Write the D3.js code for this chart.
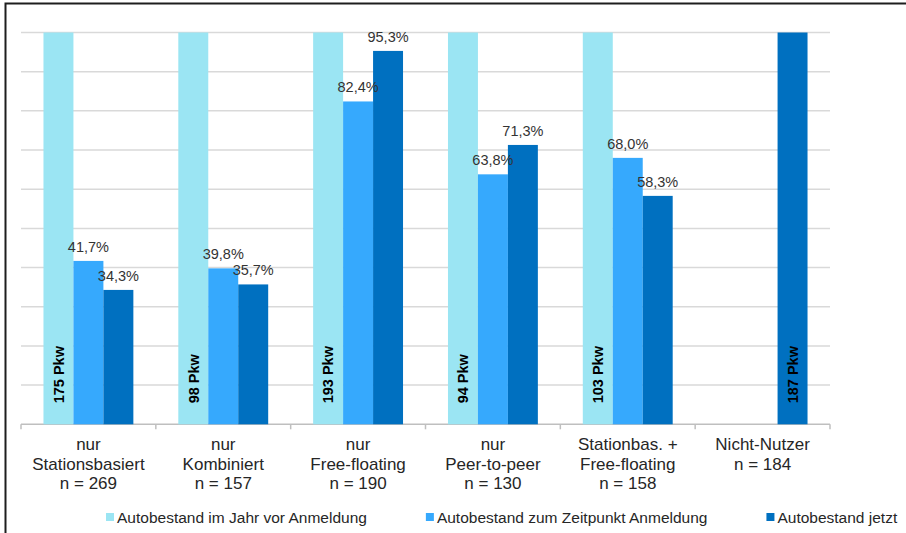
<!DOCTYPE html>
<html>
<head>
<meta charset="utf-8">
<script src="https://cdn.jsdelivr.net/npm/d3@7"></script>
<style>
  body { margin: 0; background: #fff; }
  svg { display: block; font-family: "Liberation Sans", Arial, sans-serif; }
</style>
</head>
<body>
<div id="chart"></div>
<script>
// Data
const categories = [
    ['nur', 'Stationsbasiert', 'n = 269'],
    ['nur', 'Kombiniert', 'n = 157'],
    ['nur', 'Free-floating', 'n = 190'],
    ['nur', 'Peer-to-peer', 'n = 130'],
    ['Stationbas. +', 'Free-floating', 'n = 158'],
    ['Nicht-Nutzer', 'n = 184']
];
const seriesNames = [
    'Autobestand im Jahr vor Anmeldung',
    'Autobestand zum Zeitpunkt Anmeldung',
    'Autobestand jetzt'
];
const vorAnmeldung = [100, 100, 100, 100, 100, null];
const zumZeitpunkt = [41.7, 39.8, 82.4, 63.8, 68.0, null];
const jetzt = [34.3, 35.7, 95.3, 71.3, 58.3, 100];
const pkwLabels = ['175 Pkw', '98 Pkw', '193 Pkw', '94 Pkw', '103 Pkw', '187 Pkw'];
const yTicks = [0, 10, 20, 30, 40, 50, 60, 70, 80, 90, 100];

const colors = ['#9be5f3', '#36a9fd', '#0070c0'];

function groupedBar() {
    let width = 906;
    let height = 533;
    let margin = {top: 32.5, right: 76, bottom: 108.7, left: 21};
    let chartWidth, chartHeight;
    let x0, x1, yScale;
    let svg, rows;

    const de = d3.formatLocale({decimal: ',', thousands: '.', grouping: [3], currency: ['', '€']});
    const pct = v => de.format('.1f')(v) + '%';

    function exports(_selection) {
        _selection.each(function() {
            chartWidth = width - margin.left - margin.right;
            chartHeight = height - margin.top - margin.bottom;
            rows = categories.map((lines, i) => {
                const values = [vorAnmeldung[i], zumZeitpunkt[i], jetzt[i]];
                return {
                    key: i,
                    lines,
                    pkw: pkwLabels[i],
                    ref: values.findIndex(v => v != null),
                    values
                };
            });

            buildScales();
            buildSVG(this);
            drawFrame();
            drawGrid();
            drawAxis();
            drawBars();
            drawLabels();
            drawLegend();
        });
    }

    function buildScales() {
        x0 = d3.scaleBand()
            .domain(rows.map(d => d.key))
            .range([0, chartWidth]);
        x1 = d3.scaleBand()
            .domain(d3.range(seriesNames.length))
            .range([0, x0.bandwidth()])
            .paddingInner(0)
            .paddingOuter(0.75);
        yScale = d3.scaleLinear()
            .domain([0, 100])
            .range([chartHeight, 0]);
    }

    function buildSVG(container) {
        svg = d3.select(container)
          .append('svg')
            .attr('width', width)
            .attr('height', height);
        svg.append('g')
            .classed('chart-group', true)
            .attr('transform', `translate(${margin.left},${margin.top})`);
    }

    function drawFrame() {
        // picture border, only top and left edges show
        svg.append('rect')
            .attr('x', 5.5)
            .attr('y', 3.5)
            .attr('width', width + 20)
            .attr('height', height + 20)
            .attr('fill', 'none')
            .attr('stroke', '#1e1e1e')
            .attr('stroke-width', 2);
    }

    function drawGrid() {
        const g = svg.select('.chart-group');
        g.append('g')
            .selectAll('line')
            .data(yTicks.filter(t => t > 0))
            .join('line')
            .attr('x1', 0)
            .attr('x2', chartWidth)
            .attr('y1', d => yScale(d))
            .attr('y2', d => yScale(d))
            .attr('stroke', '#d9d9d9')
            .attr('stroke-width', 1.5);
    }

    function drawAxis() {
        const g = svg.select('.chart-group');
        const axis = g.append('g')
            .attr('transform', `translate(0,${chartHeight})`);

        axis.append('line')
            .attr('x1', 0)
            .attr('x2', chartWidth)
            .attr('stroke', '#bfbfbf')
            .attr('stroke-width', 1.5);

        const bounds = rows.map(d => x0(d.key)).concat([chartWidth]);
        axis.selectAll('.tick-mark')
            .data(bounds)
            .join('line')
            .classed('tick-mark', true)
            .attr('x1', d => d)
            .attr('x2', d => d)
            .attr('y1', 0)
            .attr('y2', 5)
            .attr('stroke', '#bfbfbf')
            .attr('stroke-width', 1.5);

        axis.selectAll('.cat-label')
            .data(rows)
            .join('text')
            .classed('cat-label', true)
            .attr('x', d => x0(d.key) + x0.bandwidth() / 2)
            .attr('y', 26)
            .attr('text-anchor', 'middle')
            .attr('fill', '#262626')
            .style('font-size', '17px')
            .selectAll('tspan')
            .data(d => d.lines)
            .join('tspan')
            .attr('x', function() { return this.parentNode.getAttribute('x'); })
            .attr('dy', (d, i) => i === 0 ? 0 : 19.5)
            .text(d => d);
    }

    function drawBars() {
        const g = svg.select('.chart-group');
        const groups = g.selectAll('.bar-group')
            .data(rows)
            .join('g')
            .classed('bar-group', true)
            .attr('transform', d => `translate(${x0(d.key)},0)`);

        groups.selectAll('rect')
            .data(d => d.values.map((v, s) => ({s, v})).filter(e => e.v != null))
            .join('rect')
            .attr('x', d => x1(d.s))
            .attr('y', d => yScale(d.v))
            .attr('width', x1.bandwidth())
            .attr('height', d => chartHeight - yScale(d.v))
            .attr('fill', d => colors[d.s]);
    }

    function drawLabels() {
        const g = svg.select('.chart-group');
        const groups = g.selectAll('.bar-group');

        // percentages above the non-reference bars
        groups.selectAll('.pct')
            .data(d => d.values.map((v, s) => ({s, v, ref: d.ref})).filter(e => e.v != null && e.s !== e.ref))
            .join('text')
            .classed('pct', true)
            .attr('x', d => x1(d.s) + x1.bandwidth() / 2)
            .attr('y', d => yScale(d.v) - 9)
            .attr('text-anchor', 'middle')
            .attr('fill', '#333')
            .style('font-size', '14.5px')
            .text(d => pct(d.v));

        // car count inside the reference bar
        groups.append('text')
            .attr('transform', d => `translate(${x1(d.ref) + x1.bandwidth() / 2},${chartHeight - 21}) rotate(-90)`)
            .attr('dy', '0.36em')
            .attr('fill', '#000')
            .style('font-size', '14.5px')
            .style('font-weight', 'bold')
            .text(d => d.pkw);
    }

    function drawLegend() {
        const legend = svg.append('g')
            .attr('transform', 'translate(106,523)');
        let cursor = 0;
        seriesNames.forEach((name, i) => {
            const item = legend.append('g')
                .attr('transform', `translate(${cursor},0)`);
            item.append('rect')
                .attr('x', 0)
                .attr('y', -10)
                .attr('width', 8)
                .attr('height', 8)
                .attr('fill', colors[i]);
            const label = item.append('text')
                .attr('x', 11)
                .attr('fill', '#262626')
                .style('font-size', '15.5px')
                .text(name);
            cursor += 11 + label.node().getComputedTextLength() + 59;
        });
    }

    return exports;
}

d3.select('#chart').call(groupedBar());
</script>
</body>
</html>
